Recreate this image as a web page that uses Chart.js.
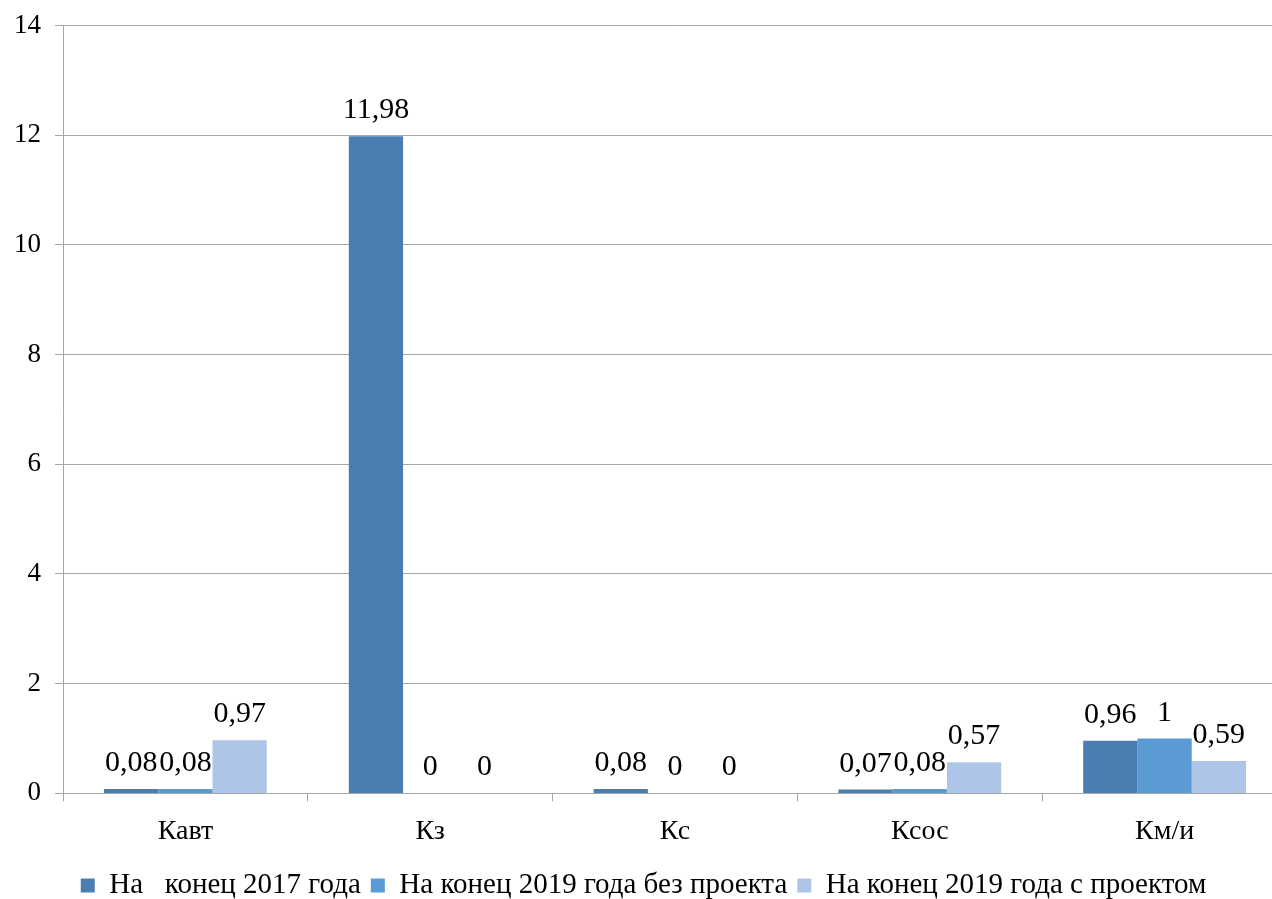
<!DOCTYPE html>
<html>
<head>
<meta charset="utf-8">
<script src="https://cdn.jsdelivr.net/npm/chart.js@4"></script>
<style>
  html, body { margin: 0; padding: 0; background: #fff; overflow: hidden; }
  #wrap { width: 1287px; height: 899px; }
</style>
</head>
<body>
<div id="wrap"><canvas id="chart" width="1287" height="899"></canvas></div>
<script>
// данные диаграммы
const categories = ['Кавт', 'Кз', 'Кс', 'Ксос', 'Км/и'];
const seriesNames = ['На   конец 2017 года', 'На конец 2019 года без проекта', 'На конец 2019 года с проектом'];
const values2017 = [0.08, 11.98, 0.08, 0.07, 0.96];
const values2019a = [0.08, 0, 0, 0.08, 1];
const values2019b = [0.97, 0, 0, 0.57, 0.59];
const colors = ['#4a7eb0', '#5b9bd5', '#adc6e7'];

const serif = '"Liberation Serif", "Times New Roman", serif';

// подписи значений над столбцами
const valueLabels = {
    id: 'valueLabels',
    afterDatasetsDraw(chart) {
        const ctx = chart.ctx;
        ctx.save();
        ctx.font = '30px ' + serif;
        ctx.fillStyle = '#000';
        ctx.textAlign = 'center';
        ctx.textBaseline = 'alphabetic';
        chart.data.datasets.forEach((ds, i) => {
            chart.getDatasetMeta(i).data.forEach((bar, j) => {
                const txt = String(ds.data[j]).replace('.', ',');
                ctx.fillText(txt, bar.x, bar.y - 18);
            });
        });
        ctx.restore();
    }
};

new Chart(document.getElementById('chart'), {
    type: 'bar',
    data: {
        labels: categories,
        datasets: [
            { label: seriesNames[0], data: values2017, backgroundColor: colors[0] },
            { label: seriesNames[1], data: values2019a, backgroundColor: colors[1] },
            { label: seriesNames[2], data: values2019b, backgroundColor: colors[2] }
        ]
    },
    options: {
        responsive: false,
        animation: false,
        layout: { padding: { top: 0, right: 0, left: 0, bottom: -11 } },
        datasets: {
            bar: { categoryPercentage: 0.665, barPercentage: 1, borderWidth: 0 }
        },
        plugins: {
            legend: {
                position: 'bottom',
                labels: {
                    font: { family: serif, size: 29 },
                    color: '#000',
                    boxWidth: 14,
                    boxHeight: 14,
                    padding: 10
                }
            },
            tooltip: { enabled: false }
        },
        scales: {
            x: {
                grid: {
                    offset: true,
                    drawOnChartArea: false,
                    drawTicks: true,
                    tickLength: 8,
                    color: '#a6a6a6'
                },
                border: { color: '#a6a6a6' },
                ticks: { font: { family: serif, size: 28 }, color: '#000', padding: 13 }
            },
            y: {
                min: 0,
                max: 14,
                ticks: { stepSize: 2, font: { family: serif, size: 27, lineHeight: 0.85 }, color: '#000', padding: 14 },
                grid: { color: '#a6a6a6', tickLength: 8 },
                border: { color: '#a6a6a6' }
            }
        }
    },
    plugins: [valueLabels]
});
</script>
</body>
</html>
